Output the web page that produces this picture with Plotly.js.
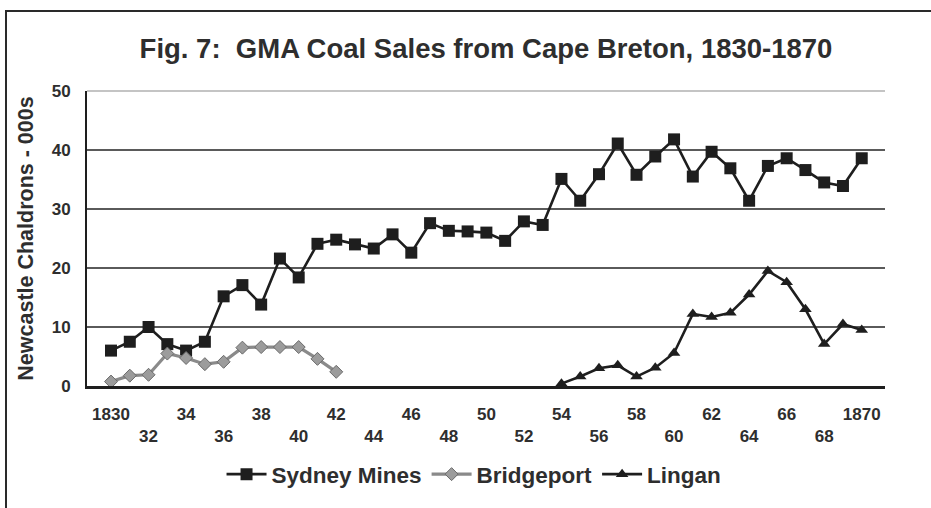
<!DOCTYPE html>
<html>
<head>
<meta charset="utf-8">
<script src="https://cdn.plot.ly/plotly-3.0.1.min.js"></script>
<style>
  html, body { margin: 0; padding: 0; background: #ffffff; }
  #wrap { position: relative; width: 931px; height: 508px; overflow: hidden; }
  #chart { position: absolute; left: 0; top: 0; width: 931px; height: 508px; }
  #frame { position: absolute; left: 5px; top: 10px; width: 940px; height: 520px;
           border-left: 2px solid #2a2a2a; border-top: 2px solid #2a2a2a; pointer-events: none; }
</style>
</head>
<body>
<div id="wrap">
  <div id="chart"></div>
  <div id="frame"></div>
</div>
<script>
// ---- data ----
const titleText = 'Fig. 7:  GMA Coal Sales from Cape Breton, 1830-1870';
const yTitle = 'Newcastle Chaldrons - 000s';

const sydneyYears = [1830,1831,1832,1833,1834,1835,1836,1837,1838,1839,1840,1841,1842,1843,1844,1845,1846,1847,1848,1849,1850,1851,1852,1853,1854,1855,1856,1857,1858,1859,1860,1861,1862,1863,1864,1865,1866,1867,1868,1869,1870];
const sydneyMines = [6.0,7.5,10.0,7.1,6.0,7.5,15.2,17.1,13.8,21.6,18.4,24.1,24.8,24.0,23.3,25.7,22.6,27.6,26.3,26.2,26.0,24.6,27.9,27.3,35.1,31.4,35.9,41.1,35.8,38.9,41.8,35.5,39.7,36.9,31.4,37.3,38.6,36.6,34.5,33.9,38.6];

const bridgeportYears = [1830,1831,1832,1833,1834,1835,1836,1837,1838,1839,1840,1841,1842];
const bridgeport = [0.75,1.75,1.9,5.5,4.75,3.7,4.1,6.5,6.6,6.6,6.6,4.6,2.4];

const linganYears = [1854,1855,1856,1857,1858,1859,1860,1861,1862,1863,1864,1865,1866,1867,1868,1869,1870];
const lingan = [0.4,1.6,3.0,3.5,1.6,3.1,5.6,12.2,11.7,12.4,15.5,19.5,17.6,13.0,7.1,10.5,9.5];

const xTickVals = [1830,1832,1834,1836,1838,1840,1842,1844,1846,1848,1850,1852,1854,1856,1858,1860,1862,1864,1866,1868,1870];
const xTickText = ['1830','<br>32','34','<br>36','38','<br>40','42','<br>44','46','<br>48','50','<br>52','54','<br>56','58','<br>60','62','<br>64','66','<br>68','1870'];
const yTickVals = [0,10,20,30,40,50];
const yTickText = ['0','10','20','30','40','50'];

// ---- traces ----
const FONT = 'Liberation Sans, Arial, sans-serif';
const TXT = '#2e2e2e';

const traces = [
  {
    x: sydneyYears, y: sydneyMines, name: 'Sydney Mines', type: 'scatter', mode: 'lines+markers',
    line: { color: '#1e1e1e', width: 2.6 },
    marker: { symbol: 'square', size: 12, color: '#1e1e1e' }
  },
  {
    x: bridgeportYears, y: bridgeport, name: 'Bridgeport', type: 'scatter', mode: 'lines+markers',
    line: { color: '#8a8a8a', width: 3.2 },
    marker: { symbol: 'diamond', size: 10, color: '#9c9c9c', line: { color: '#6a6a6a', width: 1 } }
  },
  {
    x: linganYears, y: lingan, name: 'Lingan', type: 'scatter', mode: 'lines+markers',
    line: { color: '#1e1e1e', width: 2.6 },
    marker: { symbol: 'triangle-up', size: 11, color: '#1e1e1e' }
  }
];

const xTickFont = { family: FONT, size: 17, color: TXT, weight: 700 };
const yTickFont = { family: FONT, size: 17, color: TXT, weight: 700 };

const layout = {
  width: 931, height: 508,
  paper_bgcolor: 'rgba(0,0,0,0)', plot_bgcolor: '#ffffff',
  margin: { l: 87, r: 46, t: 91, b: 118, pad: 0 },
  title: {
    text: titleText, x: 0.5, xref: 'paper', y: 1 - 48 / 508, yref: 'container', yanchor: 'middle',
    font: { family: FONT, size: 27.5, color: TXT, weight: 700 }
  },
  showlegend: true,
  legend: {
    orientation: 'h', x: 0.485, xanchor: 'center', y: -0.30, yanchor: 'middle',
    font: { family: FONT, size: 22.5, color: TXT, weight: 700 },
    bgcolor: 'rgba(0,0,0,0)', itemwidth: 40
  },
  xaxis: {
    range: [1828.72, 1871.24], tickmode: 'array', tickvals: xTickVals, ticktext: xTickText,
    tickfont: xTickFont, ticks: 'outside', ticklen: 11, tickcolor: 'rgba(0,0,0,0)',
    showgrid: false, zeroline: false, showline: true, linecolor: '#1e1e1e', linewidth: 2.5,
    fixedrange: true
  },
  yaxis: {
    range: [0, 50], tickmode: 'array', tickvals: yTickVals, ticktext: yTickText,
    tickfont: yTickFont, ticks: 'outside', ticklen: 11, tickcolor: 'rgba(0,0,0,0)',
    showgrid: true, gridcolor: '#5a5a5a', gridwidth: 1.4, zeroline: false,
    showline: true, linecolor: '#1e1e1e', linewidth: 2,
    title: { text: yTitle, font: { family: FONT, size: 21.5, color: TXT, weight: 700 }, standoff: 12 },
    fixedrange: true
  },
  yaxis2: {
    range: [0, 50], overlaying: 'y', side: 'right', tickmode: 'array', tickvals: yTickVals, ticktext: yTickText,
    tickfont: yTickFont, ticks: 'outside', ticklen: 12, tickcolor: 'rgba(0,0,0,0)',
    showgrid: false, zeroline: false, showline: true, linecolor: '#8a8a8a', linewidth: 1.5,
    fixedrange: true
  },
  shapes: [
    { type: 'line', xref: 'paper', yref: 'paper', x0: 0, x1: 1, y0: 1, y1: 1,
      line: { color: '#c4c4c4', width: 2 }, layer: 'above' }
  ]
};

Plotly.newPlot('chart', traces, layout, { staticPlot: true, displayModeBar: false });
</script>
</body>
</html>
